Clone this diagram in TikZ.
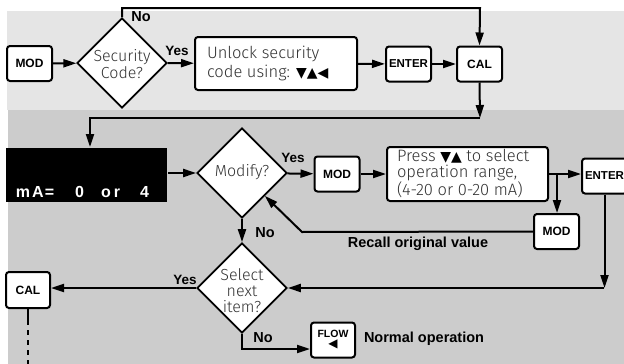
\documentclass[tikz,border=0pt]{standalone}
\usepackage{fontspec}
\setmainfont{Liberation Sans}
\IfFontExistsTF{Fira Sans Light}{\newfontfamily\lightfont{Fira Sans Light}}{\newfontfamily\lightfont{Liberation Sans}}
\newfontfamily\symfont{DejaVu Sans}
\usetikzlibrary{arrows.meta,shapes.geometric}
\definecolor{bglight}{RGB}{229,229,229}
\definecolor{bgdark}{RGB}{204,204,204}
\definecolor{thintext}{RGB}{50,50,50}
\begin{document}
\begin{tikzpicture}[x=1pt,y=-1pt,
  line width=2pt,
  arr/.style={-{Triangle[length=13pt,width=8pt]}},
  keybox/.style={draw, fill=white, rounded corners=3pt, minimum width=45pt, minimum height=35pt, inner sep=0pt, font=\bfseries\fontsize{12}{12}\selectfont},
  textbox/.style={draw, fill=white, rounded corners=3pt, inner sep=0pt},
  dia/.style={draw, fill=white, diamond, minimum width=90pt, minimum height=90pt, inner sep=0pt, line width=1.7pt},
  dtext/.style={font=\lightfont\fontsize{16}{15}\selectfont, text=thintext, align=center, inner sep=0pt},
  lbl/.style={font=\bfseries\fontsize{14.5}{15}\selectfont, inner sep=0pt},
]
\useasboundingbox (0,0) rectangle (624,364);
\clip (0,0) rectangle (624,364);
% backgrounds
\fill[white] (0,0) rectangle (624,364);
\fill[bglight] (7,11) rectangle (624,110);
\fill[bgdark] (8,110) rectangle (624,364);

% top row
\node[keybox] (mod1) at (29.5,63.5) {MOD};
\node[dia] (sec) at (122,63) {};
\node[dtext] (sectxt) at (122,64) {Security\\Code?};
\node[textbox, minimum width=162pt, minimum height=53pt] (unlock) at (276,63.5) {};
\node[dtext, align=left, anchor=west, font=\lightfont\fontsize{16.5}{19}\selectfont] (unlocktxt) at (206,63.5) {Unlock security\\code using: {\color{black}\symfont\fontsize{14}{14}\selectfont ▼▲◀}};
\node[keybox, font=\bfseries\fontsize{11.5}{12}\selectfont] (enter1) at (408.5,64) {ENTER};
\node[keybox] (cal1) at (479.5,64) {CAL};

\draw[arr] (mod1) -- (sec);
\draw[arr] (sec) -- (unlock);
\node[lbl, font=\bfseries\fontsize{13.5}{14}\selectfont] (yes1) at (177,51) {Yes};
\draw[arr] (unlock) -- (enter1);
\draw[arr] (enter1) -- (cal1);
\coordinate (topR) at (480,8);
\draw[arr] (sec.north) |- (topR) -- (cal1.north);
\node[lbl] (no1) at (141,17) {No};

% middle row
\node[fill=black, minimum width=161pt, minimum height=54pt, inner sep=0pt] (disp) at (86.5,175) {};
\node[anchor=base west, text=white, font=\bfseries\fontsize{16}{16}\selectfont, inner sep=0pt] (disptxt) at (15,197) {m\hspace{2pt}A\hspace{1pt}=\hspace{21pt}0\hspace{17pt}o\hspace{3pt}r\hspace{20pt}4};
\coordinate (c1) at (480,118);
\coordinate (c2) at (90,118);
\draw[arr] (cal1.south) -- (c1);
\draw[arr] (c1) -- (c2) -- (c2 |- disp.north);

\node[dia] (modify) at (242,173) {};
\node[dtext] (modtxt) at (242,172) {Modify?};
\draw[arr] (disp.east |- modify.west) -- (modify.west);
\node[keybox] (mod2) at (337,174) {MOD};
\draw[arr] (modify) -- (mod2);
\node[lbl, font=\bfseries\fontsize{13.5}{14}\selectfont] (yes2) at (293,158) {Yes};
\node[textbox, minimum width=161pt, minimum height=54pt] (press) at (467.5,174) {};
\node[dtext, align=left, anchor=west, font=\lightfont\fontsize{16.5}{15.5}\selectfont] (presstxt) at (396,173.5) {Press {\color{black}\symfont\fontsize{14}{14}\selectfont ▼▲} to select\\operation range,\\(4-20 or 0-20 mA)};
\draw[arr] (mod2) -- (press);
\node[keybox, font=\bfseries\fontsize{11.5}{12}\selectfont] (enter2) at (604.5,176) {ENTER};
\draw[arr] (press.east) -- (press.east -| enter2.west);
\node[keybox] (mod3) at (556.5,231.5) {MOD};
\coordinate (br) at (557,174);
\draw[arr] (br) -- (br |- mod3.north);
\coordinate (rc) at (302,232);
\draw[arr] (mod3.west) -- (rc) -- (modify.south east);
\node[lbl] (recall) at (418,244) {Recall original value};

% bottom row
\node[dia] (select) at (242,288) {};
\node[dtext, font=\lightfont\fontsize{16}{16}\selectfont] (seltxt) at (242,291) {Select\\next\\item?};
\draw[arr] (modify.south) -- (select.north);
\node[lbl] (no2) at (265,233) {No};
\coordinate (c3) at (604,288);
\draw[arr] (enter2.south) -- (enter2.south |- c3);
\draw[arr] (c3) -- (select.east);
\node[keybox, minimum width=44pt, minimum height=36pt] (cal2) at (28,290) {CAL};
\draw[arr] (select.west) -- (select.west -| cal2.east);
\node[lbl, font=\bfseries\fontsize{13.5}{14}\selectfont] (yes3) at (185,280) {Yes};
\coordinate (dstart) at (28,325);
\coordinate (dend) at (28,364);
\draw[line width=2.8pt] (cal2.south) -- (dstart);
\draw[line width=2.8pt, dash pattern=on 5pt off 5pt, dash phase=5pt] (dstart) -- (dend);

\node[keybox, minimum width=44pt, minimum height=35pt, align=center] (flow) at (333,340) {\fontsize{10.5}{11}\selectfont FLOW\\[-2pt]{\symfont\fontsize{12}{12}\selectfont ◀}};
\coordinate (c4) at (242,349);
\draw[arr] (select.south) -- (c4) -- (c4 -| flow.west);
\node[lbl] (no3) at (263,338) {No};
\node[lbl, anchor=west] (normal) at (363,339) {Normal operation};
\end{tikzpicture}
\end{document}
